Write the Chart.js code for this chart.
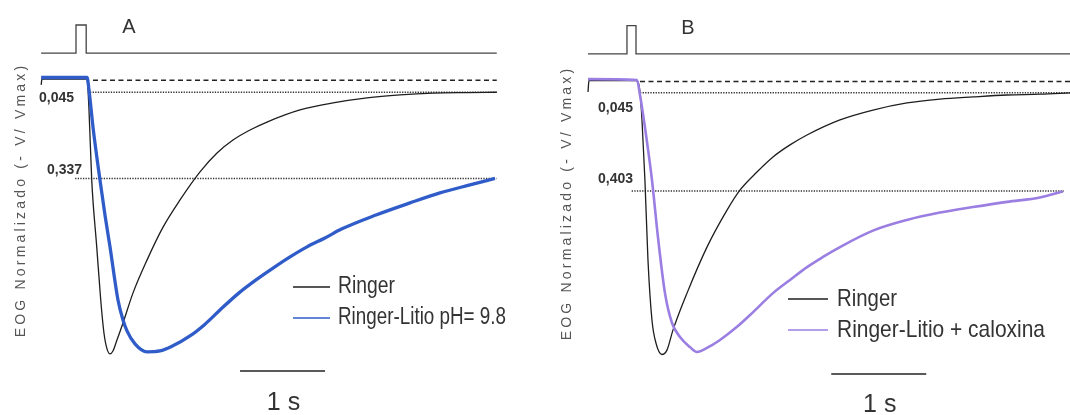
<!DOCTYPE html>
<html>
<head>
<meta charset="utf-8">
<title>EOG normalizado</title>
<script src="https://cdn.jsdelivr.net/npm/chart.js@4.4.1/dist/chart.umd.min.js"></script>
<style>
  html, body { margin: 0; padding: 0; background: #fff; }
  #wrap { position: relative; width: 1070px; height: 415px; overflow: hidden; }
  .panel { position: absolute; top: 0; width: 535px; height: 415px; }
</style>
</head>
<body>
<div id="wrap">
  <div class="panel" style="left:0"><canvas id="chartA" width="535" height="415"></canvas></div>
  <div class="panel" style="left:535px"><canvas id="chartB" width="535" height="415"></canvas></div>
</div>
<script>
// time in s from stimulus onset, value = -V/Vmax (0 = baseline, grows downward)

// Panel A
const stimA = [[-0.41,-0.088],[0,-0.088],[0,-0.183],[0.12,-0.183],[0.12,-0.088],[4.95,-0.088]];
const ringerA = [[-0.41,0.02],[-0.40,0],[0.13,0],[0.153,0.105],[0.185,0.342],[0.244,0.569],[0.291,0.749],
  [0.329,0.861],[0.365,0.915],[0.40,0.932],[0.435,0.922],[0.482,0.885],[0.553,0.827],[0.671,0.725],
  [0.835,0.614],[1.024,0.502],[1.224,0.41],[1.459,0.315],[1.659,0.251],[1.847,0.207],[2.047,0.173],
  [2.247,0.146],[2.635,0.105],[3.024,0.081],[3.424,0.064],[3.812,0.054],[4.2,0.048],[4.6,0.046],[4.95,0.045]];
const litioA = [[-0.41,-0.005],[0.13,-0.005],[0.153,0.037],[0.2,0.163],[0.282,0.342],[0.341,0.461],[0.4,0.569],
  [0.494,0.749],[0.553,0.817],[0.6,0.854],[0.694,0.898],[0.835,0.925],[0.988,0.922],[1.118,0.908],
  [1.341,0.871],[1.518,0.831],[1.694,0.783],[1.918,0.725],[2.118,0.681],[2.318,0.641],[2.518,0.603],
  [2.718,0.569],[2.929,0.539],[3.129,0.508],[3.529,0.461],[3.929,0.42],[4.282,0.386],[4.635,0.359],[4.929,0.337]];
const refLevelsA = [0.045, 0.337];
const refTextA = ['0,045', '0,337'];
const seriesA = ['Ringer', 'Ringer-Litio pH= 9.8'];

// Panel B
const stimB = [[-0.41,-0.097],[0,-0.097],[0,-0.2],[0.095,-0.2],[0.095,-0.097],[4.663,-0.097]];
const ringerB = [[-0.41,0.042],[-0.40,0],[0.095,0],[0.137,0.042],[0.158,0.144],[0.189,0.363],[0.221,0.655],
  [0.263,0.874],[0.305,0.958],[0.368,1.0],[0.421,0.984],[0.484,0.911],[0.632,0.776],[0.842,0.608],
  [1.053,0.473],[1.189,0.40],[1.368,0.334],[1.537,0.279],[1.716,0.235],[1.895,0.199],[2.242,0.144],
  [2.589,0.108],[2.947,0.082],[3.295,0.068],[3.642,0.06],[4.0,0.053],[4.347,0.05],[4.663,0.045]];
const caloxB = [[-0.41,-0.005],[0.105,-0.002],[0.137,0.053],[0.189,0.17],[0.263,0.363],[0.326,0.571],[0.4,0.776],
  [0.474,0.885],[0.558,0.936],[0.663,0.973],[0.737,0.991],[0.842,0.976],[0.979,0.947],[1.158,0.899],
  [1.295,0.856],[1.537,0.776],[1.716,0.728],[1.895,0.681],[2.063,0.644],[2.242,0.608],[2.589,0.548],
  [2.947,0.509],[3.295,0.482],[3.642,0.462],[4.0,0.443],[4.347,0.427],[4.589,0.405]];
const refLevelsB = [0.045, 0.403];
const refTextB = ['0,045', '0,403'];
const seriesB = ['Ringer', 'Ringer-Litio + caloxina'];

const yTitle = 'EOG Normalizado (- V/ Vmax)';
const scaleText = '1 s';

const FONT = '"Liberation Sans", Arial, sans-serif';
const NARROW = '"Liberation Sans Narrow", "Arial Narrow", "Liberation Sans", Arial, sans-serif';

function toXY(pairs) { return pairs.map(p => ({ x: p[0], y: p[1] })); }
function hline(level, from, to) { return [{ x: from, y: level }, { x: to, y: level }]; }

// draws panel letter, value labels, legend, y title and scale-bar text
const panelDecor = {
  id: 'panelDecor',
  afterDraw(chart, args, o) {
    const ctx = chart.ctx;
    const xs = chart.scales.x;
    ctx.save();
    ctx.fillStyle = '#333';
    ctx.textBaseline = 'middle';

    ctx.font = '20px ' + FONT;
    ctx.textAlign = 'center';
    ctx.fillText(o.letter, o.letterAt[0], o.letterAt[1]);

    ctx.font = 'bold 14px ' + FONT;
    ctx.textAlign = 'left';
    o.refText.forEach((t, i) => ctx.fillText(t, o.refTextAt[i][0], o.refTextAt[i][1]));

    // legend
    const items = chart.data.datasets.filter(d => d.inLegend);
    items.forEach((d, i) => {
      const y = o.legend.y[i];
      ctx.strokeStyle = d.borderColor;
      ctx.lineWidth = 1.4;
      ctx.beginPath();
      ctx.moveTo(o.legend.x0, y);
      ctx.lineTo(o.legend.x1, y);
      ctx.stroke();
      ctx.fillStyle = '#333';
      ctx.font = o.legend.size + 'px ' + NARROW;
      ctx.fillText(d.label, o.legend.tx, y, o.legend.maxW[i]);
    });

    // scale bar label
    const bar = chart.data.datasets.find(d => d.isScaleBar);
    const bx = (xs.getPixelForValue(bar.data[0].x) + xs.getPixelForValue(bar.data[1].x)) / 2;
    ctx.font = '25px ' + FONT;
    ctx.textAlign = 'center';
    ctx.fillText(scaleText, bx + 1, o.scaleTextY);

    // rotated y title
    ctx.save();
    ctx.translate(o.yTitleAt[0], o.yTitleAt[1]);
    ctx.rotate(-Math.PI / 2);
    ctx.font = '14px ' + FONT;
    ctx.fillStyle = '#555';
    ctx.letterSpacing = '3.2px';
    ctx.textAlign = 'center';
    ctx.fillText(yTitle, 0, 0);
    ctx.restore();

    ctx.restore();
  }
};

function makePanel(id, p) {
  const dotted = { borderColor: '#333', borderWidth: 1.5, borderDash: [1.3, 1.3], tension: 0 };
  const datasets = [
    { label: 'Estímulo', data: toXY(p.stim), borderColor: '#444', borderWidth: 1.3, tension: 0, order: 5 },
    { label: 'Línea base', data: hline(0.004, p.baseFrom, p.xEnd), borderColor: '#222', borderWidth: 1.5,
      borderDash: [5, 3.5], tension: 0, order: 4 },
    ...p.refLevels.map((lv, i) => Object.assign({ label: p.refText[i], data: hline(lv, p.refFrom[i], p.refTo[i]), order: 4 }, dotted)),
    { label: p.series[0], data: toXY(p.ringer), borderColor: '#1e1e1e', borderWidth: 1.3,
      cubicInterpolationMode: 'monotone', inLegend: true, order: 2 },
    { label: p.series[1], data: toXY(p.test), borderColor: p.color, borderWidth: p.width,
      cubicInterpolationMode: 'monotone', inLegend: true, order: 1 },
    { label: 'escala', data: hline(p.barY, p.barFrom, p.barFrom + 1), borderColor: '#222', borderWidth: 1.6,
      tension: 0, isScaleBar: true, order: 3 }
  ];
  return new Chart(document.getElementById(id), {
    type: 'scatter',
    data: { datasets },
    options: {
      responsive: false,
      animation: false,
      showLine: true,
      elements: { point: { radius: 0, hoverRadius: 0 } },
      layout: { padding: 0 },
      scales: {
        x: { type: 'linear', display: false, min: p.xMin, max: p.xMax },
        y: { type: 'linear', display: false, reverse: true, min: p.yMin, max: p.yMax }
      },
      plugins: {
        legend: { display: false },
        tooltip: { enabled: false },
        panelDecor: p.decor
      }
    },
    plugins: [panelDecor]
  });
}

makePanel('chartA', {
  stim: stimA, ringer: ringerA, test: litioA, series: seriesA,
  refLevels: refLevelsA, refText: refTextA,
  color: '#2f5cc8', width: 3.3,
  xMin: -0.894, xMax: 5.4, yMin: -0.2678, yMax: 1.139,
  xEnd: 4.95, baseFrom: 0.2, refFrom: [0.165, -0.01], refTo: [4.95, 4.95],
  barFrom: 1.93, barY: 0.99,
  decor: {
    letter: 'A', letterAt: [129, 27],
    refText: refTextA, refTextAt: [[39, 98], [47, 170]],
    legend: { x0: 293, x1: 330, tx: 338, y: [287, 318], size: 23, maxW: [57, 168] },
    scaleTextY: 403, yTitleAt: [21, 200]
  }
});

makePanel('chartB', {
  stim: stimB, ringer: ringerB, test: caloxB, series: seriesB,
  refLevels: refLevelsB, refText: refTextB,
  color: '#9a7ee2', width: 2.6,
  xMin: -0.968, xMax: 4.663, yMin: -0.2938, yMax: 1.2208,
  xEnd: 4.663, baseFrom: 0.137, refFrom: [0.137, 0.05], refTo: [4.663, 4.6],
  barFrom: 2.15, barY: 1.071,
  decor: {
    letter: 'B', letterAt: [153, 28],
    refText: refTextB, refTextAt: [[63, 108], [63, 179]],
    legend: { x0: 253, x1: 293, tx: 302, y: [299, 330], size: 24, maxW: [60, 208] },
    scaleTextY: 405, yTitleAt: [32, 203]
  }
});
</script>
</body>
</html>
